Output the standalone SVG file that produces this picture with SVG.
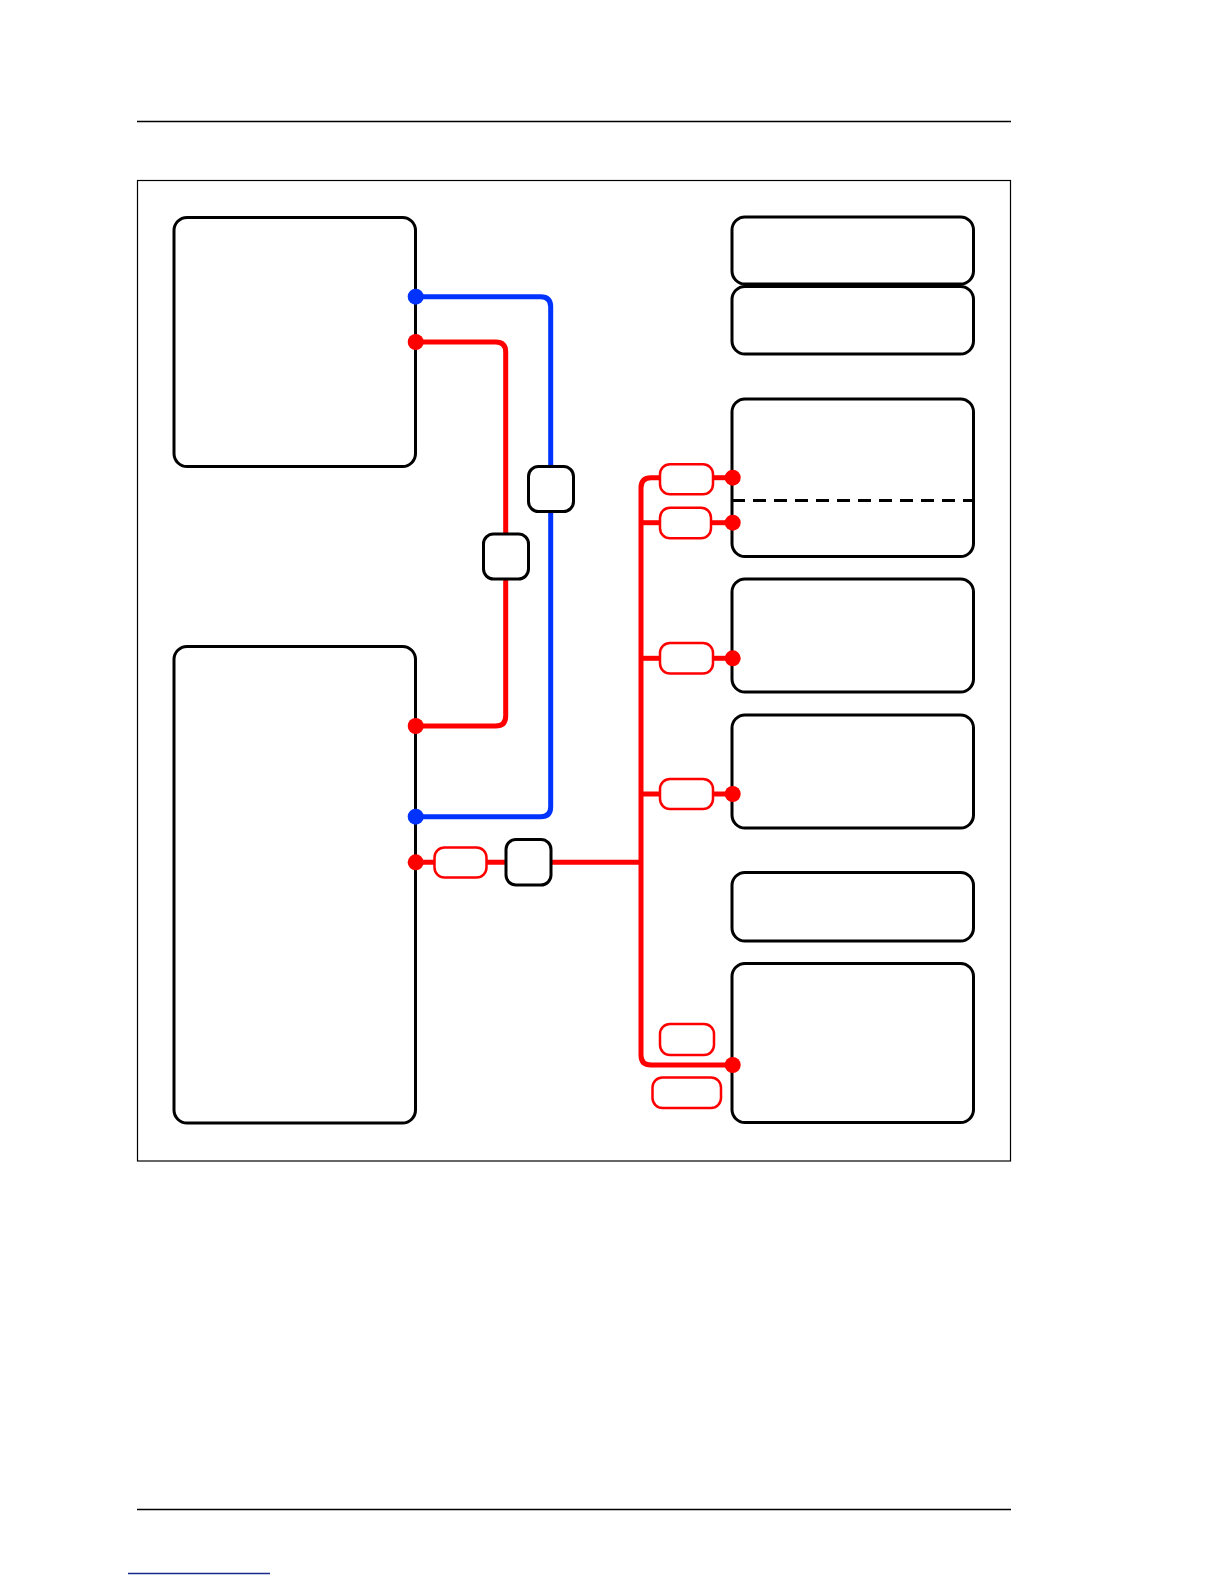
<svg xmlns="http://www.w3.org/2000/svg" width="1224" height="1584" viewBox="0 0 1224 1584">
<style>
.node{fill:#fff;stroke:#000;stroke-width:3}
.pill{fill:#fff;stroke:#ff0000;stroke-width:2.5}
.rw{fill:none;stroke:#ff0000;stroke-width:5;stroke-linejoin:round}
.bw{fill:none;stroke:#0033ff;stroke-width:5;stroke-linejoin:round}
.rd{fill:#ff0000}
.bd{fill:#0033ff}
.rule{stroke:#000;stroke-width:1.5}
</style>
<rect width="1224" height="1584" fill="#fff"/>
<line class="rule" x1="137" y1="121.5" x2="1011" y2="121.5"/>
<line class="rule" x1="137" y1="1509.5" x2="1011" y2="1509.5"/>
<line x1="128" y1="1573.5" x2="270" y2="1573.5" stroke="#1a2a8a" stroke-width="1.5"/>
<rect x="137.5" y="180.5" width="873" height="980.5" fill="none" stroke="#000" stroke-width="1.2"/>

<g id="connectors">
  <path class="bw" d="M415.7,296.7 H540.7 Q550.7,296.7 550.7,306.7 V806.7 Q550.7,816.7 540.7,816.7 H415.7"/>
  <path class="rw" d="M415.7,342 H495.7 Q505.7,342 505.7,352 V716 Q505.7,726 495.7,726 H415.7"/>
  <line class="rw" x1="415.7" y1="862.3" x2="641" y2="862.3"/>
  <path class="rw" d="M660,477.7 H651 Q641,477.7 641,487.7 V1055 Q641,1065 651,1065 H732.7"/>
  <line class="rw" x1="641" y1="522.7" x2="660" y2="522.7"/>
  <line class="rw" x1="641" y1="658.3" x2="660" y2="658.3"/>
  <line class="rw" x1="641" y1="794" x2="660" y2="794"/>
  <line class="rw" x1="712" y1="477.7" x2="732.7" y2="477.7"/>
  <line class="rw" x1="710" y1="522.7" x2="732.7" y2="522.7"/>
  <line class="rw" x1="712" y1="658.3" x2="732.7" y2="658.3"/>
  <line class="rw" x1="712" y1="794" x2="732.7" y2="794"/>
</g>

<g id="node-top-left"><rect class="node" x="174" y="217.5" width="241.5" height="249" rx="13"/></g>
<g id="node-bottom-left"><rect class="node" x="174" y="646.5" width="241.5" height="476.5" rx="13"/></g>
<g id="node-r1"><rect class="node" x="732" y="217" width="241.5" height="67" rx="13"/></g>
<g id="node-r2"><rect class="node" x="732" y="286.5" width="241.5" height="67.5" rx="13"/></g>
<g id="node-r3"><rect class="node" x="732" y="399" width="241.5" height="157.5" rx="13"/>
  <line x1="732" y1="500.5" x2="973.5" y2="500.5" stroke="#000" stroke-width="3" stroke-dasharray="13,8"/></g>
<g id="node-r4"><rect class="node" x="732" y="579" width="241.5" height="113" rx="13"/></g>
<g id="node-r5"><rect class="node" x="732" y="715" width="241.5" height="113" rx="13"/></g>
<g id="node-r6"><rect class="node" x="732" y="872.5" width="241.5" height="68.5" rx="13"/></g>
<g id="node-r7"><rect class="node" x="732" y="963.5" width="241.5" height="159" rx="13"/></g>

<g id="box-blue"><rect class="node" x="528.5" y="466.5" width="45" height="45" rx="10"/></g>
<g id="box-red"><rect class="node" x="483.5" y="534" width="45" height="45" rx="10"/></g>
<g id="box-bottom"><rect class="node" x="506" y="839.5" width="45" height="45.5" rx="10"/></g>

<g id="pill-a"><rect class="pill" x="434.5" y="847.5" width="52" height="30" rx="10"/></g>
<g id="pill-1"><rect class="pill" x="660" y="464.2" width="53" height="30" rx="10"/></g>
<g id="pill-2"><rect class="pill" x="660" y="507.8" width="51" height="30.5" rx="10"/></g>
<g id="pill-3"><rect class="pill" x="660" y="643" width="53" height="30.5" rx="10"/></g>
<g id="pill-4"><rect class="pill" x="660" y="779" width="53" height="30" rx="10"/></g>
<g id="pill-5"><rect class="pill" x="660" y="1024" width="54" height="31" rx="10"/></g>
<g id="pill-6"><rect class="pill" x="652.5" y="1077.5" width="68.5" height="30.5" rx="10"/></g>

<g id="dots">
  <circle class="bd" cx="415.7" cy="296.7" r="8"/>
  <circle class="rd" cx="415.7" cy="342" r="8"/>
  <circle class="rd" cx="415.7" cy="726" r="8"/>
  <circle class="bd" cx="415.7" cy="816.7" r="8"/>
  <circle class="rd" cx="415.7" cy="862.3" r="8"/>
  <circle class="rd" cx="732.7" cy="477.7" r="8"/>
  <circle class="rd" cx="732.7" cy="522.7" r="8"/>
  <circle class="rd" cx="732.7" cy="658.3" r="8"/>
  <circle class="rd" cx="732.7" cy="794" r="8"/>
  <circle class="rd" cx="732.7" cy="1065" r="8"/>
</g>
</svg>
